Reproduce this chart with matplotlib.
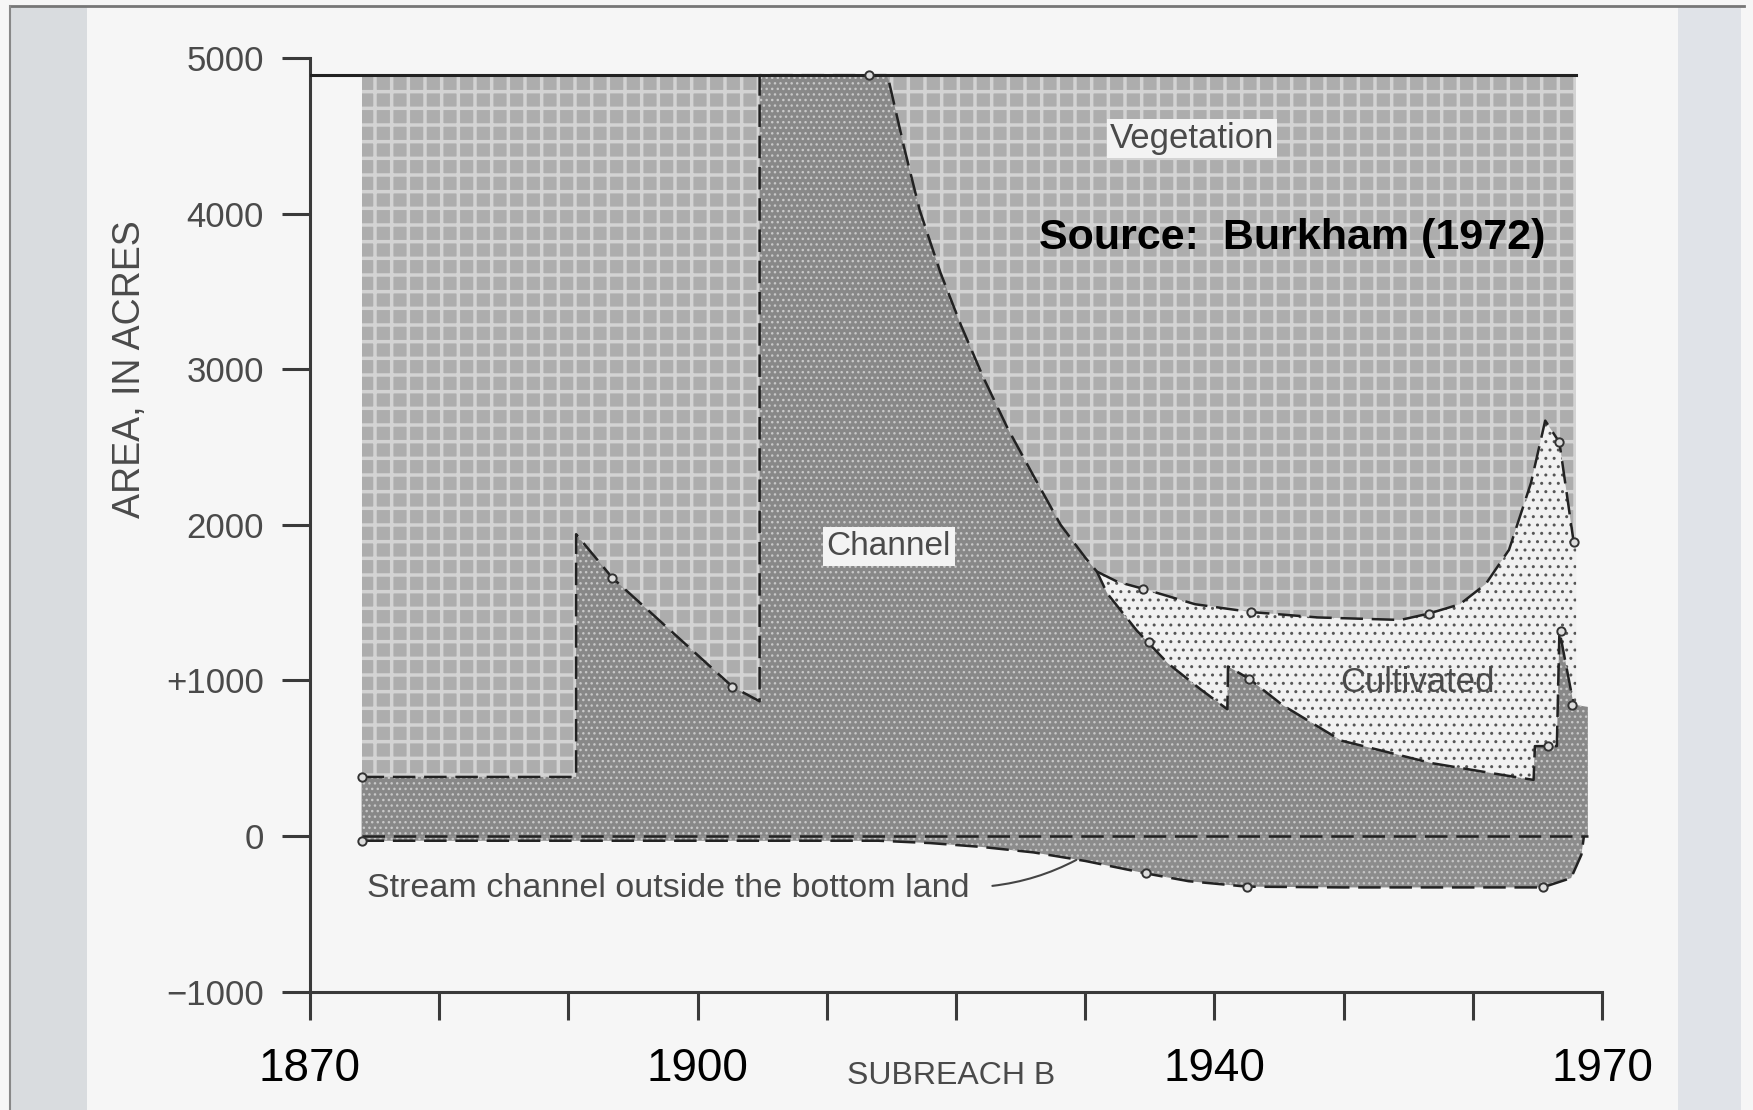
import numpy as np
import matplotlib.pyplot as plt
from matplotlib import font_manager
from matplotlib.patches import Rectangle
from matplotlib.lines import Line2D

# Datos (Burkham 1972, subreach B). Area en acres.
total_area = 4890
veg_years = [1874.0, 1968.0]

# Limite superior del canal
channel_years = [1874.0, 1890.6, 1890.6, 1893.4, 1902.7, 1904.8, 1904.8, 1913.3, 1914.7,
                 1916.0, 1917.2, 1918.8, 1920.4, 1922.1, 1924.0, 1925.8, 1928.1, 1930.0,
                 1930.9, 1931.7, 1934.0, 1936.4, 1938.9, 1941.0, 1941.05, 1942.7, 1945.3,
                 1949.8, 1956.8, 1962.0, 1964.7, 1964.8, 1966.5, 1966.7, 1967.8, 1968.9]
channel_top = [380, 380, 1940, 1660, 960, 866, 4890, 4890, 4890,
               4420, 4020, 3620, 3280, 2950, 2620, 2345, 2000, 1790,
               1700, 1560, 1320, 1110, 945, 815, 1090, 1010, 840,
               614, 469, 397, 361, 578, 578, 1321, 845, 830]

# Limite inferior de la vegetacion (arriba de lo cultivado)
cult_years = [1930.9, 1932.5, 1934.5, 1938.5, 1942.8, 1948.0, 1954.4, 1956.6,
              1959.0, 1961.0, 1962.8, 1964.5, 1965.6, 1966.7, 1967.8, 1968.0]
cult_top = [1700, 1634, 1589, 1490, 1440, 1405, 1389, 1430,
            1490, 1620, 1840, 2270, 2670, 2530, 1890, 1890]

# Canal fuera del bottom land (negativo)
neg_years = [1874.0, 1914.0, 1918.0, 1922.0, 1926.0, 1930.0, 1934.7, 1938.0, 1942.5,
             1950.0, 1958.0, 1965.4, 1967.6, 1968.4, 1968.6]
neg_low = [-30, -30, -45, -70, -105, -160, -240, -290, -325,
           -330, -330, -330, -270, -120, 0]

# Puntos medidos (circulos)
pt_years = [1874.0, 1874.0, 1893.4, 1902.7, 1913.3, 1934.5, 1934.9, 1942.8, 1942.7,
            1956.6, 1966.7, 1967.8, 1966.8, 1967.7, 1965.8, 1934.7, 1942.5, 1965.4]
pt_vals = [380, -30, 1660, 960, 4890, 1589, 1250, 1440, 1010,
           1430, 2530, 1890, 1321, 845, 578, -240, -325, -330]

ytick_vals = [5000, 4000, 3000, 2000, 1000, 0, -1000]
ytick_text = ['5000', '4000', '3000', '2000', '+1000', '0', '\u22121000']
xtick_vals = list(range(1870, 1971, 10))
xtick_text = ['1870', '', '', '1900', '', '', '', '1940', '', '', '1970']

# letra angosta del escaneo; si no esta, Liberation Sans con tamanos menores
try:
    font_manager.findfont('Liberation Sans Narrow', fallback_to_default=False)
    k = 1.2
except ValueError:
    k = 1.0
scan = ['Liberation Sans Narrow', 'Liberation Sans', 'DejaVu Sans']
gris = '#4a4a4a'

fig = plt.figure(figsize=(17.53, 11.10), dpi=100, facecolor='#f6f6f6')

# fondo tipo diapositiva
fig.add_artist(Rectangle((0.0057, 0), 0.044, 0.994, transform=fig.transFigure,
                         facecolor='#d9dcdf', edgecolor='none', zorder=0))
fig.add_artist(Rectangle((0.957, 0), 0.036, 0.994, transform=fig.transFigure,
                         facecolor='#e0e3e8', edgecolor='none', zorder=0))
fig.add_artist(Line2D([0.0057, 0.995], [0.9945, 0.9945], transform=fig.transFigure,
                      color='#777777', lw=2))
fig.add_artist(Line2D([0.0057, 0.0057], [0, 0.9945], transform=fig.transFigure,
                      color='#888888', lw=1.5))

ax = fig.add_axes([0.1768, 0.1066, 0.7371, 0.8411])
ax.set_facecolor('none')

def relleno(xs, ys, cara, trama, color_trama, ancho, z):
    with plt.rc_context({'hatch.linewidth': ancho}):
        p = ax.fill(xs, ys, facecolor=cara, edgecolor=color_trama, hatch=trama,
                    linewidth=0, zorder=z)[0]
    return p

# vegetacion
relleno([veg_years[0], veg_years[1], veg_years[1], veg_years[0]],
        [0, 0, total_area, total_area], '#adadad', '+', '#d3d3d3', 2.5, 1)
# cultivado
relleno(cult_years + [cult_years[-1], cult_years[0]], cult_top + [0, 0],
        '#f1f1f1', '..', '#555555', 1.0, 2)
# canal
relleno(channel_years + [channel_years[-1], channel_years[0]], channel_top + [0, 0],
        '#888888', '...', '#c8c8c8', 1.0, 3)
# canal fuera del bottom land
relleno(neg_years + neg_years[::-1], neg_low + [0] * len(neg_years),
        '#8c8c8c', '...', '#c4c4c4', 1.0, 3)

guion = dict(color='#222222', lw=1.8, dashes=(9, 3.5), zorder=5)
ax.plot(channel_years[:-1], channel_top[:-1], **guion)
ax.plot(cult_years[:-1], cult_top[:-1], **guion)
ax.plot([channel_years[0], channel_years[-1]], [0, 0], **guion)
ax.plot(neg_years, neg_low, **guion)
ax.plot([1870, veg_years[1]], [total_area, total_area], color='#222222', lw=2.2, zorder=6)
ax.plot(pt_years, pt_vals, 'o', ms=6, mfc='#dddddd', mec='#333333', mew=1.4, zorder=7)

# etiquetas internas
ax.text(1938.3, 4484, 'Vegetation', family=scan, fontsize=25 * k, color=gris,
        ha='center', va='center', zorder=8,
        bbox=dict(facecolor='#f3f3f3', edgecolor='none', pad=2))
ax.text(1914.8, 1863, 'Channel', family=scan, fontsize=24 * k, color=gris,
        ha='center', va='center', zorder=8,
        bbox=dict(facecolor='#f3f3f3', edgecolor='none', pad=3))
ax.text(1955.7, 989, 'Cultivated', family=scan, fontsize=25 * k, color=gris,
        ha='center', va='center', zorder=8)
ax.text(1874.4, -335, 'Stream channel outside the bottom land', family=scan,
        fontsize=24.5 * k, color=gris, ha='left', va='center', zorder=8)
ax.annotate('', xy=(1929.5, -145), xytext=(1922.6, -322),
            arrowprops=dict(arrowstyle='-', color='#444444', lw=1.5,
                            connectionstyle='arc3,rad=0.1'), zorder=8)
ax.text(1946.0, 3841, 'Source:  Burkham (1972)', family='Liberation Sans',
        fontsize=31, fontweight='bold', color='black', ha='center', va='center', zorder=9)
ax.text(1919.6, -1540, 'SUBREACH B', family=scan, fontsize=23 * k, color=gris,
        ha='center', va='center', clip_on=False)
ax.text(-0.139, 0.667, 'AREA, IN ACRES', family=scan, fontsize=27 * k, color=gris,
        rotation=90, ha='center', va='center', transform=ax.transAxes)

# ejes
ax.set_xlim(1870, 1970)
ax.set_ylim(-1000, 5000)
for s in ['top', 'right']:
    ax.spines[s].set_visible(False)
for s in ['left', 'bottom']:
    ax.spines[s].set_color('#3a3a3a')
    ax.spines[s].set_linewidth(2.2)

ax.set_yticks(ytick_vals)
ax.set_yticklabels(ytick_text, family=scan, fontsize=25 * k, color=gris)
ax.set_xticks(xtick_vals)
ax.set_xticklabels(xtick_text, family='Liberation Sans', fontsize=33, color='black')
ax.tick_params(axis='both', direction='out', length=20, width=2.2, color='#3a3a3a')
ax.tick_params(axis='y', pad=13)
ax.tick_params(axis='x', pad=20)

fig.savefig('out.png', dpi=100, facecolor=fig.get_facecolor())
